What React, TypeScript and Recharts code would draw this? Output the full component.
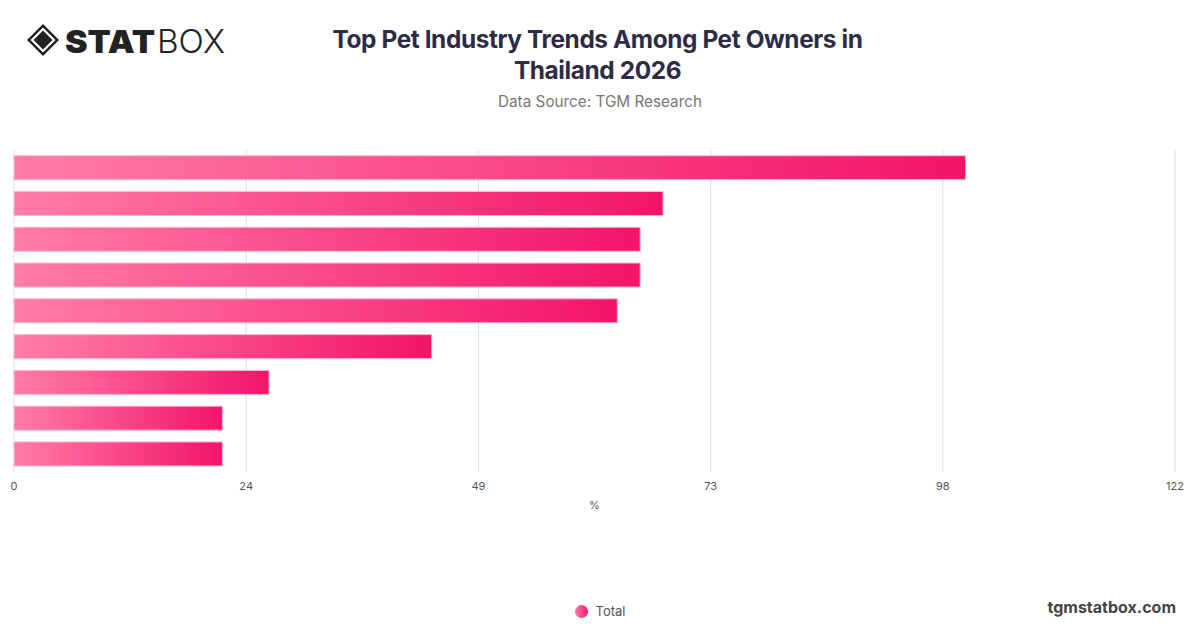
import { BarChart, Bar, XAxis, YAxis, CartesianGrid, Legend } from 'recharts';

const categories = [
  'Premium pet food',
  'Pet health & wellness',
  'Pet insurance',
  'Pet grooming services',
  'Smart pet products',
  'Pet-friendly travel',
  'Pet daycare',
  'Pet subscription boxes',
  'Pet fashion',
];
const totals = [100, 68.2, 65.8, 65.8, 63.4, 43.9, 26.8, 21.9, 21.9];
const xTicks = [0, 24.4, 48.8, 73.2, 97.6, 122];

const data = categories.map((name, i) => ({ name, Total: totals[i] }));

function Logo() {
  return (
    <svg width={220} height={40} style={{ position: 'absolute', left: 24, top: 22 }}>
      <g transform="translate(19,18)">
        <path d="M0,-16 L16,0 L0,16 L-16,0 Z" fill="#222" />
        <path d="M0,-11 L11,0 L0,11 L-11,0 Z" fill="none" stroke="#fff" strokeWidth={2.2} />
        <path d="M0,-6 L6,0 L0,6 L-6,0 Z" fill="#222" />
      </g>
      <text
        x={41}
        y={31}
        fontFamily="Inter, sans-serif"
        fontWeight={900}
        fontSize={32}
        fill="#222"
        textLength={90}
        lengthAdjust="spacingAndGlyphs"
      >
        STAT
      </text>
      <text
        x={133}
        y={31}
        fontFamily="Inter, sans-serif"
        fontWeight={300}
        fontSize={32}
        fill="#222"
        textLength={68}
        lengthAdjust="spacingAndGlyphs"
      >
        BOX
      </text>
    </svg>
  );
}

export default function App() {
  return (
    <div
      style={{
        position: 'relative',
        margin: -8,
        width: 1200,
        height: 628,
        background: '#fff',
        fontFamily: 'Inter, sans-serif',
        overflow: 'hidden',
      }}
    >
      <Logo />
      <div
        style={{
          position: 'absolute',
          left: 0,
          width: 1195,
          top: 24,
          textAlign: 'center',
          fontSize: 24.4,
          fontWeight: 700,
          color: '#2e2c45',
          lineHeight: '31px',
          letterSpacing: -0.4,
        }}
      >
        Top Pet Industry Trends Among Pet Owners in
        <br />
        Thailand 2026
      </div>
      <div
        style={{
          position: 'absolute',
          left: 0,
          width: 1200,
          top: 92,
          textAlign: 'center',
          fontSize: 15.3,
          color: '#777',
        }}
      >
        Data Source: TGM Research
      </div>

      <div style={{ position: 'absolute', left: 0, top: 0 }}>
        <BarChart
          width={1200}
          height={628}
          data={data}
          layout="vertical"
          barCategoryGap="16%"
          margin={{ top: 150, right: 25, left: 14, bottom: 96 }}
        >
          <defs>
            <linearGradient id="barGrad" x1="0" y1="0" x2="1" y2="0">
              <stop offset="0%" stopColor="#ff7ca8" />
              <stop offset="100%" stopColor="#f31469" />
            </linearGradient>
          </defs>
          <CartesianGrid horizontal={false} stroke="#dedede" />
          <XAxis
            type="number"
            domain={[0, 122]}
            ticks={xTicks}
            tickFormatter={(v) => String(Math.round(v))}
            axisLine={false}
            tickLine={false}
            tick={{ fontSize: 11, fill: '#555' }}
            tickMargin={4}
            height={40}
            label={{ value: '%', position: 'insideBottom', offset: 3, fontSize: 11, fill: '#555' }}
          />
          <YAxis
            type="category"
            dataKey="name"
            width={0}
            tick={false}
            tickLine={false}
            axisLine={{ stroke: '#333', strokeWidth: 1.2 }}
          />
          <Legend
            verticalAlign="bottom"
            align="center"
            iconType="circle"
            iconSize={13}
            wrapperStyle={{ bottom: 8, left: 5, width: 1200 }}
            formatter={(value) => (
              <span style={{ color: '#555', fontSize: 13, marginLeft: 4 }}>{value}</span>
            )}
          />
          <Bar
            dataKey="Total"
            fill="url(#barGrad)"
            stroke="#fbb6d0"
            strokeWidth={1}
            isAnimationActive={false}
          />
        </BarChart>
      </div>

      <div
        style={{
          position: 'absolute',
          right: 24,
          top: 597,
          fontSize: 16,
          fontWeight: 700,
          color: '#444',
        }}
      >
        tgmstatbox.com
      </div>
    </div>
  );
}
